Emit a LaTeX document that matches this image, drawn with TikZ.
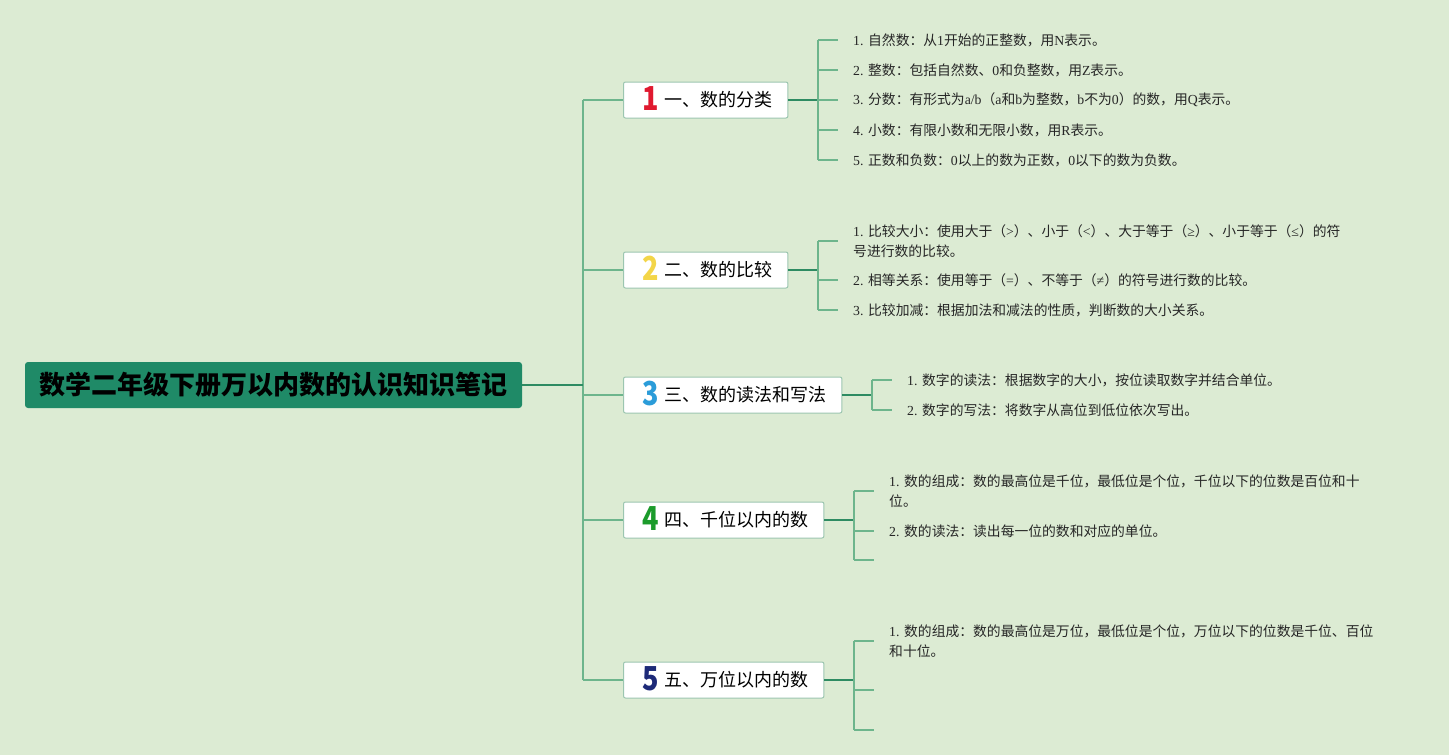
\documentclass[tikz,border=0pt]{standalone}
\usepackage{fontspec}
\usepackage{graphicx}
\setmainfont{Noto Sans CJK SC}
\newfontfamily\enfont{Liberation Serif}
\usetikzlibrary{positioning, calc}

\definecolor{mapbg}{HTML}{DCEBD3}
\definecolor{rootfill}{HTML}{1F8A67}
\definecolor{stemgreen}{HTML}{2E8B62}
\definecolor{twiggreen}{HTML}{6DB58C}
\definecolor{boxline}{HTML}{9CC6B0}
\definecolor{numred}{HTML}{E0192F}
\definecolor{numyellow}{HTML}{F3D548}
\definecolor{numblue}{HTML}{2B9CD9}
\definecolor{numgreen}{HTML}{1B9B2B}
\definecolor{numnavy}{HTML}{1D2A78}

\newcommand\wtxt[1]{{\enfont #1}}
\newcommand\topicnum[2]{\hspace{4pt}\raisebox{-3.5pt}{\scalebox{0.82}[1]{\fontsize{33}{33}\selectfont\bfseries\color{#1}#2}}\hspace{6pt}}

\begin{document}
\begin{tikzpicture}[
  x=1pt, y=-1pt,
  root/.style={fill=rootfill, rounded corners=3pt, minimum width=497pt, minimum height=46pt,
    font=\fontsize{26}{28}\selectfont\bfseries, text=black},
  topic/.style={draw=boxline, fill=white, rounded corners=2pt, anchor=west, line width=1pt,
    inner xsep=15pt, inner ysep=0pt, minimum height=36pt, text height=15pt, text depth=1.8pt,
    font=\fontsize{18}{20}\selectfont},
  leaf/.style={anchor=west, inner xsep=0pt, inner ysep=2pt, align=left, text=black!85,
    font=\fontsize{13.8}{20}\selectfont},
  stem/.style={draw=stemgreen, line width=1.3pt},
  twig/.style={draw=twiggreen, line width=1.2pt}
]
  \useasboundingbox (0,0) rectangle (1449,755);
  \fill[mapbg] (0,0) rectangle (1449,755);

  % central topic
  \node[root] (root) at (273.5,385) {数学二年级下册万以内数的认识知识笔记};
  \coordinate (hub) at (583,385);

  % main branches
  \node[topic] (t1) at (623,100) {\topicnum{numred}{1}一、数的分类};
  \node[topic] (t2) at (623,270) {\topicnum{numyellow}{2}二、数的比较};
  \node[topic] (t3) at (623,395) {\topicnum{numblue}{3}三、数的读法和写法};
  \node[topic] (t4) at (623,520) {\topicnum{numgreen}{4}四、千位以内的数};
  \node[topic] (t5) at (623,680) {\topicnum{numnavy}{5}五、万位以内的数};

  % leaves of branch 1
  \node[leaf] (l11) at (853,40) {\wtxt{1. }自然数：从\wtxt{1}开始的正整数，用\wtxt{N}表示。};
  \node[leaf] (l12) at (853,70) {\wtxt{2. }整数：包括自然数、\wtxt{0}和负整数，用\wtxt{Z}表示。};
  \node[leaf] (l13) at (853,100) {\wtxt{3. }分数：有形式为\wtxt{a/b}（\wtxt{a}和\wtxt{b}为整数，\wtxt{b}不为\wtxt{0}）的数，用\wtxt{Q}表示。};
  \node[leaf] (l14) at (853,130) {\wtxt{4. }小数：有限小数和无限小数，用\wtxt{R}表示。};
  \node[leaf] (l15) at (853,160) {\wtxt{5. }正数和负数：\wtxt{0}以上的数为正数，\wtxt{0}以下的数为负数。};

  % leaves of branch 2
  \node[leaf] (l21) at (853,241) {\wtxt{1. }比较大小：使用大于（\wtxt{>}）、小于（\wtxt{<}）、大于等于（\wtxt{≥}）、小于等于（\wtxt{≤}）的符\\号进行数的比较。};
  \node[leaf] (l22) at (853,280) {\wtxt{2. }相等关系：使用等于（\wtxt{=}）、不等于（\wtxt{≠}）的符号进行数的比较。};
  \node[leaf] (l23) at (853,310) {\wtxt{3. }比较加减：根据加法和减法的性质，判断数的大小关系。};

  % leaves of branch 3
  \node[leaf] (l31) at (907,380) {\wtxt{1. }数字的读法：根据数字的大小，按位读取数字并结合单位。};
  \node[leaf] (l32) at (907,410) {\wtxt{2. }数字的写法：将数字从高位到低位依次写出。};

  % leaves of branch 4
  \node[leaf] (l41) at (889,491) {\wtxt{1. }数的组成：数的最高位是千位，最低位是个位，千位以下的位数是百位和十\\位。};
  \node[leaf] (l42) at (889,531) {\wtxt{2. }数的读法：读出每一位的数和对应的单位。};
  \coordinate (e43) at (889,560);

  % leaves of branch 5
  \node[leaf] (l51) at (889,641) {\wtxt{1. }数的组成：数的最高位是万位，最低位是个位，万位以下的位数是千位、百位\\和十位。};
  \coordinate (e52) at (889,690);
  \coordinate (e53) at (889,730);

  % brackets
  \coordinate (k1) at ($(l11.west)+(-35,0)$);
  \coordinate (k2) at ($(l21.west)+(-35,0)$);
  \coordinate (k3) at ($(l31.west)+(-35,0)$);
  \coordinate (k4) at ($(l41.west)+(-35,0)$);
  \coordinate (k5) at ($(l51.west)+(-35,0)$);

  % trunk
  \draw[twig] (hub |- t1.west) -- (hub |- t5.west);
  \draw[stem] (root.east) -- (hub);
  \foreach \t in {t1,t2,t3,t4,t5}
    \draw[twig] (hub |- \t.west) -- (\t.west);

  % stems to brackets
  \draw[stem] (t1.east) -- (k1 |- t1.east);
  \draw[stem] (t2.east) -- (k2 |- t2.east);
  \draw[stem] (t3.east) -- (k3 |- t3.east);
  \draw[stem] (t4.east) -- (k4 |- t4.east);
  \draw[stem] (t5.east) -- (k5 |- t5.east);

  % brackets and ticks
  \draw[twig] (k1) -- (k1 |- l15.west);
  \foreach \l in {l11,l12,l13,l14,l15}
    \draw[twig] (k1 |- \l.west) -- ([xshift=-15pt]\l.west);
  \draw[twig] (k2) -- (k2 |- l23.west);
  \foreach \l in {l21,l22,l23}
    \draw[twig] (k2 |- \l.west) -- ([xshift=-15pt]\l.west);
  \draw[twig] (k3) -- (k3 |- l32.west);
  \foreach \l in {l31,l32}
    \draw[twig] (k3 |- \l.west) -- ([xshift=-15pt]\l.west);
  \draw[twig] (k4) -- (k4 |- e43);
  \foreach \l in {l41,l42}
    \draw[twig] (k4 |- \l.west) -- ([xshift=-15pt]\l.west);
  \draw[twig] (k4 |- e43) -- ([xshift=-15pt]e43);
  \draw[twig] (k5) -- (k5 |- e53);
  \draw[twig] (k5) -- ([xshift=-15pt]l51.west);
  \draw[twig] (k5 |- e52) -- ([xshift=-15pt]e52);
  \draw[twig] (k5 |- e53) -- ([xshift=-15pt]e53);
\end{tikzpicture}
\end{document}
